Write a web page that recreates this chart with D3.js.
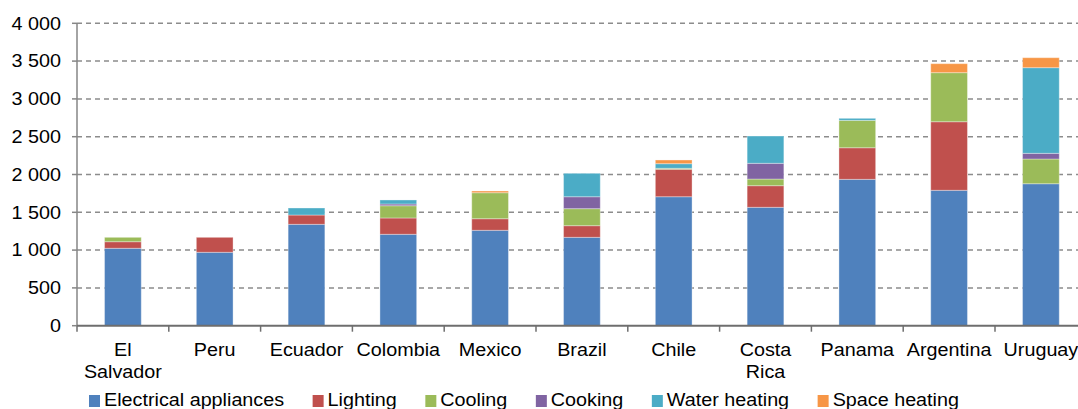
<!DOCTYPE html>
<html>
<head>
<meta charset="utf-8">
<script src="https://cdn.jsdelivr.net/npm/d3@7"></script>
<style>
  html, body { margin: 0; padding: 0; background: #fff; }
  svg { display: block; }
  text { font-family: "Liberation Sans", Arial, sans-serif; fill: #000; }
</style>
</head>
<body>
<svg id="chart" width="1078" height="409"></svg>
<script>
// ---- Data ----
const categories = ["El Salvador", "Peru", "Ecuador", "Colombia", "Mexico", "Brazil", "Chile", "Costa Rica", "Panama", "Argentina", "Uruguay"];
const seriesNames = ["Electrical appliances", "Lighting", "Cooling", "Cooking", "Water heating", "Space heating"];
const electricalAppliances = [1024, 971, 1341, 1209, 1262, 1169, 1706, 1566, 1936, 1791, 1878];
const lighting             = [87, 198, 123, 216, 153, 154, 363, 286, 418, 907, 0];
const cooling              = [58, 0, 0, 162, 344, 225, 13, 88, 362, 649, 327];
const cooking              = [0, 0, 0, 23, 0, 158, 0, 208, 0, 0, 75];
const waterHeating         = [0, 0, 93, 53, 0, 310, 61, 361, 27, 0, 1133];
const spaceHeating         = [0, 0, 0, 0, 23, 0, 49, 0, 0, 119, 132];
const yTicks = [0, 500, 1000, 1500, 2000, 2500, 3000, 3500, 4000];
const yTickLabels = ["0", "500", "1 000", "1 500", "2 000", "2 500", "3 000", "3 500", "4 000"];

const colors = ["#4F81BD", "#C0504D", "#9BBB59", "#8064A2", "#4BACC6", "#F79646"];
const seriesValues = [electricalAppliances, lighting, cooling, cooking, waterHeating, spaceHeating];

(function () {
// ---- Layout ----
const svg = d3.select("#chart");
const mLeft = 77, mRight = 1086.8, mTop = 23.3, mBottom = 325.7;
const fontSize = 17.5, sx = 1.13;

const x = d3.scaleBand().domain(categories).range([mLeft, mRight]).paddingInner(0.6).paddingOuter(0.3);
const xStep = d3.scaleBand().domain(categories).range([mLeft, mRight]).padding(0);
const y = d3.scaleLinear().domain([0, 4000]).range([mBottom, mTop]);

const table = categories.map((c, i) => {
  const o = { category: c };
  seriesNames.forEach((s, k) => o[s] = seriesValues[k][i]);
  return o;
});
const stacked = d3.stack().keys(seriesNames)(table);

// gridlines
svg.append("g").selectAll("line").data(yTicks.filter(d => d > 0)).join("line")
  .attr("x1", mLeft).attr("x2", 1078)
  .attr("y1", d => y(d)).attr("y2", d => y(d))
  .attr("stroke", "#8c8c8c").attr("stroke-width", 1.5)
  .attr("stroke-dasharray", "5,4");

// bars
svg.append("g").selectAll("g").data(stacked).join("g")
  .attr("fill", (d, i) => colors[i])
  .selectAll("rect").data(d => d.filter(p => p[1] - p[0] > 0)).join("rect")
  .attr("x", d => x(d.data.category))
  .attr("width", x.bandwidth())
  .attr("y", d => y(d[1]))
  .attr("height", d => y(d[0]) - y(d[1]))
  .attr("stroke", "rgba(255,255,255,0.35)")
  .attr("stroke-width", 1);

// y axis
const axisColor = "#868686";
svg.append("line").attr("x1", mLeft).attr("x2", mLeft).attr("y1", mTop).attr("y2", mBottom)
  .attr("stroke", axisColor).attr("stroke-width", 1.5);
svg.append("g").selectAll("line").data(yTicks).join("line")
  .attr("x1", mLeft - 5).attr("x2", mLeft)
  .attr("y1", d => y(d)).attr("y2", d => y(d))
  .attr("stroke", axisColor).attr("stroke-width", 1.5);
svg.append("g").selectAll("text").data(yTicks).join("text")
  .attr("transform", d => `translate(${mLeft - 16},${y(d)}) scale(${sx},1)`)
  .attr("text-anchor", "end").attr("dy", "0.36em")
  .style("font-size", fontSize + "px")
  .text((d, i) => yTickLabels[i]);

// x axis
svg.append("line").attr("x1", mLeft).attr("x2", 1078).attr("y1", mBottom).attr("y2", mBottom)
  .attr("stroke", "#6e6e6e").attr("stroke-width", 2);
const boundaries = categories.map(c => xStep(c)).concat([xStep(categories[categories.length - 1]) + xStep.bandwidth()]);
svg.append("g").selectAll("line").data(boundaries).join("line")
  .attr("x1", d => d).attr("x2", d => d)
  .attr("y1", mBottom).attr("y2", mBottom + 6)
  .attr("stroke", "#6e6e6e").attr("stroke-width", 1.5);

const catLabels = svg.append("g").selectAll("text").data(categories).join("text")
  .attr("transform", d => `translate(${x(d) + x.bandwidth() / 2},356) scale(${sx},1)`)
  .attr("text-anchor", "middle")
  .style("font-size", fontSize + "px");
catLabels.each(function (d) {
  const words = d.split(" ");
  const t = d3.select(this);
  words.forEach((w, i) => {
    t.append("tspan").attr("x", 0).attr("dy", i === 0 ? 0 : 22).text(w);
  });
});

// legend
const legend = svg.append("g");
let lx = 89;
seriesNames.forEach((name, i) => {
  legend.append("rect").attr("x", lx).attr("y", 395).attr("width", 11).attr("height", 12)
    .attr("fill", colors[i]);
  const t = legend.append("text")
    .attr("transform", `translate(${lx + 15},406) scale(${sx},1)`)
    .style("font-size", fontSize + "px")
    .text(name);
  const w = t.node().getComputedTextLength() * sx;
  lx += 15 + w + 28.5;
});
})();
</script>
</body>
</html>
